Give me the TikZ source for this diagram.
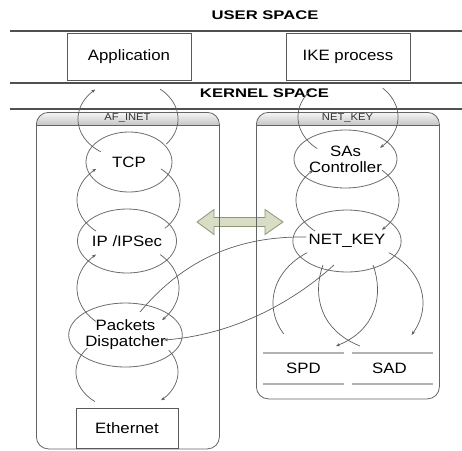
\documentclass[tikz,border=0pt]{standalone}
\usepackage{fontspec}
\setmainfont{Liberation Sans}[FakeStretch=1.12]
\newfontfamily\titlefont{Liberation Sans}[FakeStretch=1.33]
\usetikzlibrary{shapes.geometric,arrows.meta}
\definecolor{linec}{RGB}{80,80,80}
\definecolor{boxc}{RGB}{90,90,90}
\definecolor{ellc}{RGB}{110,110,110}
\definecolor{arcc}{RGB}{95,95,95}
\definecolor{contc}{RGB}{100,100,100}
\definecolor{sagefill}{RGB}{216,222,198}
\definecolor{sagedraw}{RGB}{140,150,118}
\tikzset{
  hline/.style={draw=linec,line width=1.1},
  titletxt/.style={font=\titlefont\bfseries\fontsize{12.5}{14}\selectfont,inner sep=0},
  box/.style={draw=boxc,line width=0.8,fill=white,inner sep=0,font=\fontsize{15}{17}\selectfont},
  ell/.style={ellipse,draw=ellc,line width=0.8,inner sep=0,align=center,font=\fontsize{15}{16}\selectfont},
  cont/.style={draw=contc,line width=0.8,rounded corners=12,inner sep=0},
  hdr/.style={inner sep=0,font=\fontsize{10}{12}\selectfont,text=black!80},
  flow/.style={draw=arcc,line width=0.7},
  arr/.style={-{Stealth[length=4pt,width=3.2pt]}},
  dbline/.style={draw=gray!60,line width=1.6},
  dbtxt/.style={inner sep=0,font=\fontsize{15}{17}\selectfont}
}
\newcommand\myarc[7][]{\draw[flow,#1] plot[domain=#6:#7,samples=60,smooth] ({#2+#4*cos(\x)},{#3+#5*sin(\x)});}
\begin{document}
\begin{tikzpicture}[x=1pt,y=-1pt]
\useasboundingbox[fill=white] (0,0) rectangle (462,450);

% space separators and titles
\draw[hline] (10,31) -- (462,31);
\draw[hline] (10,83) -- (462,83);
\draw[hline] (10,109) -- (462,109);
\node[titletxt] (user) at (265,15) {USER SPACE};
\node[titletxt] (kernel) at (264.5,93.5) {KERNEL SPACE};

% double arrow between families
\draw[fill=sagefill,draw=sagedraw,line width=0.8,line join=miter]
  (197,222) -- (214,209.5) -- (214,217.5) -- (265,217.5) -- (265,209.5) -- (283,222)
  -- (265,234.5) -- (265,226.5) -- (214,226.5) -- (214,234.5) -- cycle;

% containers with shaded headers
\begin{scope}
  \clip[rounded corners=12] (36,112) rectangle (219,448.5);
  \shade[top color=gray!6,bottom color=gray!45] (36,112) rectangle (219,125);
\end{scope}
\begin{scope}
  \clip[rounded corners=12] (256,112) rectangle (439,398.5);
  \shade[top color=gray!6,bottom color=gray!45] (256,112) rectangle (439,125);
\end{scope}
\node[cont,minimum width=183,minimum height=336.5,anchor=north west] (afc) at (36,112) {};
\node[cont,minimum width=183,minimum height=286.5,anchor=north west] (nkc) at (256,112) {};
\draw[draw=contc,line width=0.8] (afc.west |- 0,125) -- (afc.east |- 0,125);
\draw[draw=contc,line width=0.8] (nkc.west |- 0,125) -- (nkc.east |- 0,125);
\node[hdr] (aflbl) at (127.5,118.5) {AF\_INET};
\node[hdr] (nklbl) at (347.5,118.5) {NET\_KEY};

% user space boxes
\node[box,minimum width=124,minimum height=47] (app) at (129,56.5) {Application};
\node[box,minimum width=124,minimum height=47] (ike) at (348,56.5) {IKE process};

% AF_INET stack
\node[ell,minimum width=86,minimum height=60] (tcp) at (129,162) {TCP};
\node[ell,minimum width=86,minimum height=64] (ip) at (127,241) {IP /IPSec};
\node[ell,minimum width=86,minimum height=64] (pd) at (125.5,335) {Packets\\Dispatcher};
\node[box,minimum width=102,minimum height=40] (eth) at (127,428.5) {Ethernet};

% NET_KEY stack
\node[ell,minimum width=76,minimum height=58] (sas) at (345.5,159) {SAs\\Controller};
\node[ell,minimum width=82,minimum height=62] (nk) at (347,241) {NET\_KEY};

% SPD / SAD
\node[dbtxt,minimum width=81,minimum height=31] (spd) at (303.5,368.5) {SPD};
\node[dbtxt,minimum width=81,minimum height=31] (sad) at (392.5,368.5) {\hspace*{-6pt}SAD};
\draw[dbline] (spd.north west) -- (spd.north east);
\draw[dbline] (spd.south west) -- (spd.south east);
\draw[dbline] (sad.north west) -- (sad.north east);
\draw[dbline] (sad.south west) -- (sad.south east);

% loops, AF_INET side
\myarc[arr]{128}{119}{50}{39}{123}{229}
\myarc{128}{119}{50}{39}{310}{400}
\myarc[arr]{128.5}{200}{51.5}{40}{129}{231}
\myarc{128.5}{200}{51.5}{40}{309}{405}
\myarc[arr]{128}{288}{51}{43}{129}{231}
\myarc[arr]{128}{288}{51}{43}{309}{408}
\myarc{127}{372}{51}{38}{129}{219}
\myarc[arr]{127}{372}{51}{38}{325}{408}

% loops, NET_KEY side
\myarc{348}{117}{50}{40}{128}{222}
\myarc[arr]{348}{117}{50}{40}{314}{410}
\myarc[arr]{347.5}{200}{51.5}{40}{129}{228}
\myarc[arr]{347.5}{200}{51.5}{40}{312}{408}
\myarc{348}{303}{75}{60}{237}{149}
\myarc[arr]{348}{303}{75}{60}{303}{392}

% NET_KEY to SPD/SAD inner curves
\draw[flow] (323,265) .. controls (312,295) and (320,330) .. (360,346);
\draw[flow,arr] (373,265) .. controls (384,295) and (376,330) .. (336,346);

% NET_KEY <-> Packets Dispatcher
\draw[flow] (306,237) .. controls (240,236) and (185,258) .. (140,312);
\draw[flow,arr] (334,265) .. controls (290,305) and (230,335) .. (164,340);
\end{tikzpicture}
\end{document}
